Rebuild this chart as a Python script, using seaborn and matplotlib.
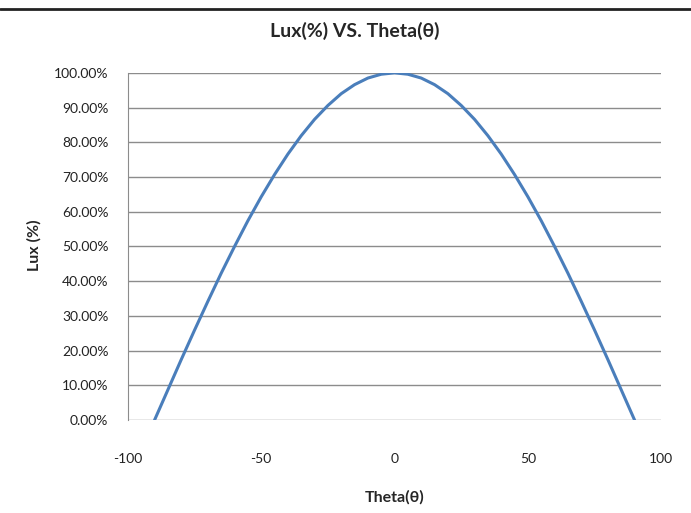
import pandas as pd
import seaborn as sns
import matplotlib.pyplot as plt
from matplotlib.lines import Line2D
from matplotlib.ticker import FuncFormatter, MultipleLocator

# Values
theta = [-90, -85, -80, -75, -70, -65, -60, -55, -50, -45, -40, -35, -30, -25, -20, -15, -10, -5,
         0, 5, 10, 15, 20, 25, 30, 35, 40, 45, 50, 55, 60, 65, 70, 75, 80, 85, 90]
lux = [0.0, 0.087, 0.174, 0.259, 0.342, 0.423, 0.50, 0.574, 0.643, 0.707, 0.766, 0.819, 0.866,
       0.906, 0.940, 0.966, 0.985, 0.996, 1.0, 0.996, 0.985, 0.966, 0.940, 0.906, 0.866, 0.819,
       0.766, 0.707, 0.643, 0.574, 0.50, 0.423, 0.342, 0.259, 0.174, 0.087, 0.0]

df = pd.DataFrame({'Theta': theta, 'Lux': lux})

sns.set_style("white")
plt.rcParams['font.family'] = ['Lato', 'DejaVu Sans']
plt.rcParams['axes.unicode_minus'] = False

fig = plt.figure(figsize=(6.91, 5.13), dpi=100)
ax = fig.add_axes([0.185, 0.181, 0.772, 0.677])

sns.lineplot(data=df, x='Theta', y='Lux', color='#4A7EBB', lw=2.2, ax=ax)

ax.set_xlim(-100, 100)
ax.set_ylim(0, 1.0)
ax.xaxis.set_major_locator(MultipleLocator(50))
ax.yaxis.set_major_locator(MultipleLocator(0.1))
ax.yaxis.set_major_formatter(FuncFormatter(lambda v, p: f"{v * 100:.2f}%"))

ax.grid(axis='y', color='#8c8c8c', lw=1.0)
ax.set_axisbelow(True)
for s in ['top', 'right', 'bottom']:
    ax.spines[s].set_visible(False)
ax.spines['left'].set_color('#8c8c8c')
ax.tick_params(axis='both', length=0, labelsize=10, colors='#222222')
ax.tick_params(axis='x', pad=24)
ax.tick_params(axis='y', pad=14)

ax.set_xlabel('')
ax.set_ylabel('')

fig.text(0.514, 0.94, 'Lux(%) VS. Theta(θ)', ha='center', va='center',
         fontsize=14, fontweight='bold')
fig.text(0.571, 0.03, 'Theta(θ)', ha='center', va='center',
         fontsize=11.5, fontweight='bold')
fig.text(0.05, 0.523, 'Lux (%)', ha='center', va='center', rotation=90,
         fontsize=11.5, fontweight='bold')

# dark border line at the top of the picture
fig.add_artist(Line2D([0, 1], [0.983, 0.983], transform=fig.transFigure,
                      color='#222222', lw=2.0))

plt.savefig('out.png', dpi=100)
